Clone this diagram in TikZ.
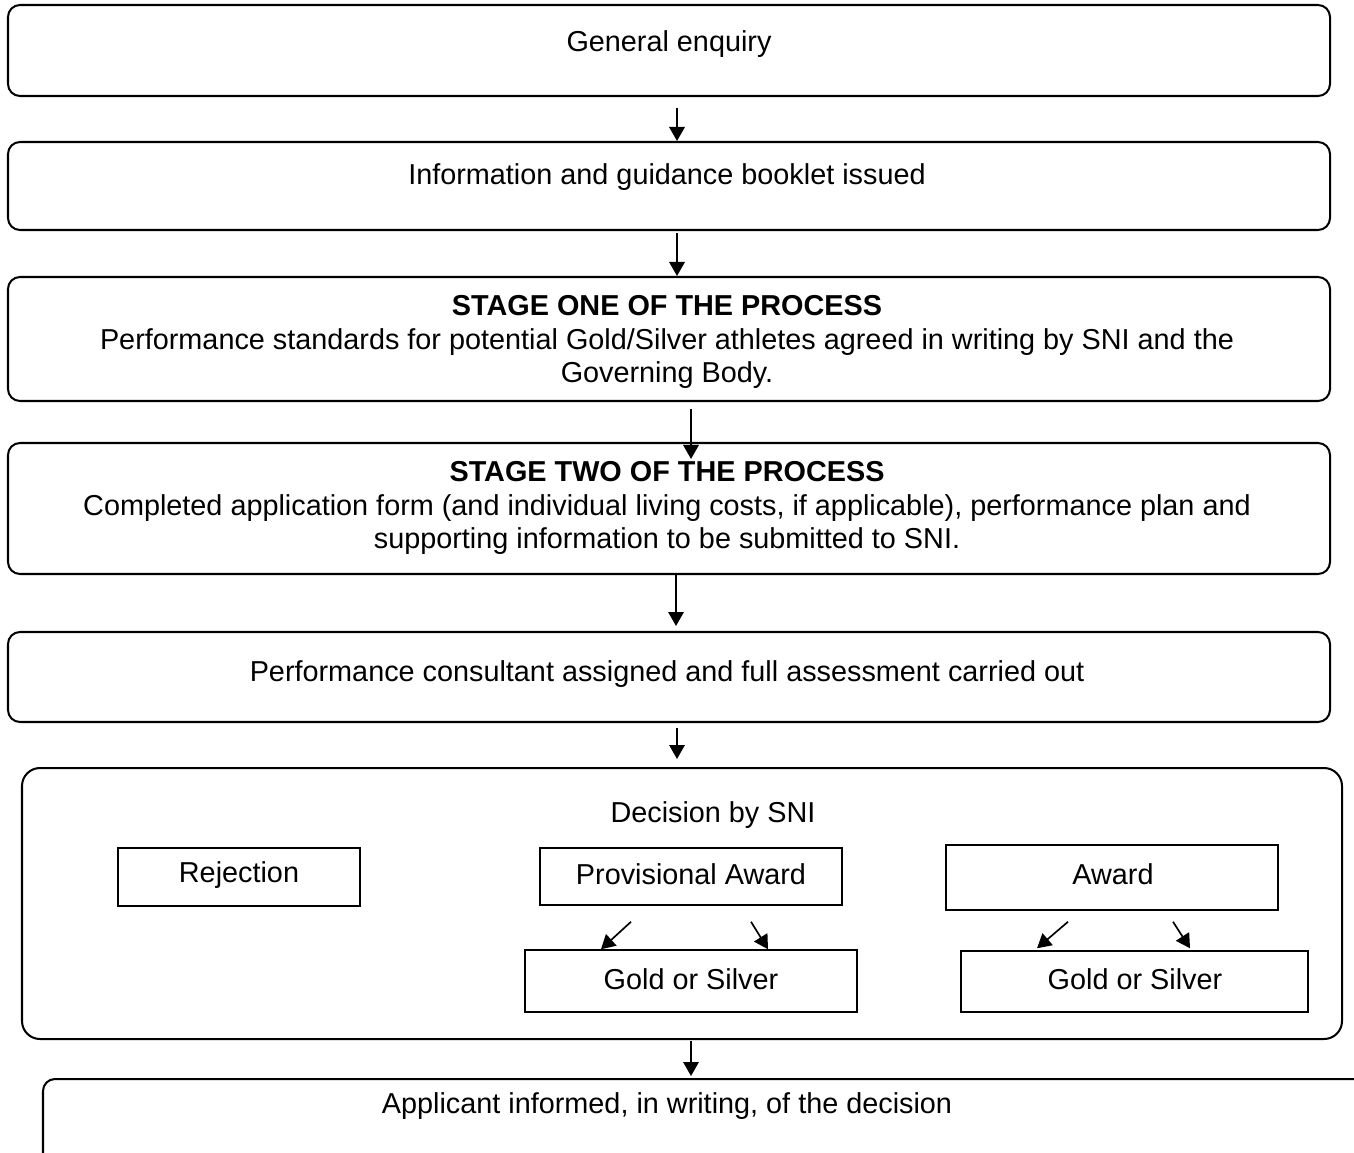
\documentclass[tikz,border=0pt]{standalone}
\usepackage{fontspec}
\setmainfont{Liberation Sans}
\usetikzlibrary{arrows.meta, positioning, fit}

\tikzset{
  frame/.style={draw, line width=1.15pt, rounded corners=0.24cm, inner sep=0pt},
  inbox/.style={draw, line width=0.85pt, inner sep=0pt},
  txt/.style={align=center, inner sep=0pt, font=\fontsize{16.4}{19}\selectfont},
  arr/.style={-{Triangle[length=0.28cm,width=0.31cm]}, line width=0.95pt},
}

\begin{document}
\begin{tikzpicture}[x=0.02cm, y=-0.02cm]
\clip (0,0) rectangle (1354,1152);
\useasboundingbox (0,0) rectangle (1354,1152);

% Main stages
\node[frame, fit={(8,5) (1330,96)}] (enq) {};
\node[txt] (enqT) at (669,44) {General enquiry};

\node[frame, fit={(8,142) (1330,230)}] (info) {};
\node[txt] (infoT) at (667,177) {Information and guidance booklet issued};

\node[frame, fit={(8,277) (1330,401)}] (stone) {};
\node[txt] (stoneT) at (667,342) {\textbf{STAGE ONE OF THE PROCESS}\\
  Performance standards for potential Gold/Silver athletes agreed in writing by SNI and the\\
  Governing Body.};

\node[frame, fit={(8,443) (1330,574)}] (sttwo) {};
\node[txt] (sttwoT) at (667,508) {\textbf{STAGE TWO OF THE PROCESS}\\
  Completed application form (and individual living costs, if applicable), performance plan and\\
  supporting information to be submitted to SNI.};

\node[frame, fit={(8,632) (1330,722)}] (consult) {};
\node[txt] (consultT) at (667,674) {Performance consultant assigned and full assessment carried out};

% Decision block
\node[frame, rounded corners=0.36cm, fit={(22,768) (1342,1039)}] (decide) {};
\node[txt] (decideT) at (713,815) {Decision by SNI};

\node[inbox, fit={(118,848) (360,906)}] (reject) {};
\node[txt] (rejectT) at (239,875) {Rejection};
\node[inbox, fit={(540,848) (842,905)}] (prov) {};
\node[txt] (provT) at (691,874) {Provisional Award};
\node[inbox, fit={(946,845) (1278,910)}] (award) {};
\node[txt] (awardT) at (1113,874) {Award};
\node[inbox, fit={(525,950) (857,1012)}] (goldA) {};
\node[txt] (goldAT) at (691,979) {Gold or Silver};
\node[inbox, fit={(961,951) (1308,1012)}] (goldB) {};
\node[txt] (goldBT) at (1135,979) {Gold or Silver};

\node[frame, fit={(43,1079) (1380,1180)}] (inform) {};
\node[txt] (informT) at (667,1106) {Applicant informed, in writing, of the decision};

% Arrows
\draw[arr] ([shift={(8,11)}]enq.south) -- ([shift={(8,0)}]info.north);
\draw[arr] ([shift={(8,2)}]info.south) -- ([shift={(8,0)}]stone.north);
\draw[arr] ([shift={(22,7)}]stone.south) -- ([shift={(22,17)}]sttwo.north);
\draw[arr] ([shift={(7,0)}]sttwo.south) -- ([shift={(7,-5)}]consult.north);
\draw[arr] ([shift={(8,5)}]consult.south) -- ([shift={(-5,-8)}]decide.north);
\draw[arr] ([shift={(9,1)}]decide.south) -- ([shift={(-20.5,-2)}]inform.north);

\draw[arr] ([shift={(-60,16)}]prov.south) -- ([shift={(-90,0)}]goldA.north);
\draw[arr] ([shift={(60,16)}]prov.south) -- ([shift={(77,0)}]goldA.north);
\draw[arr] ([shift={(-44,11)}]award.south) -- ([shift={(-97.5,-2)}]goldB.north);
\draw[arr] ([shift={(61,11)}]award.south) -- ([shift={(55.5,-2)}]goldB.north);
\end{tikzpicture}
\end{document}
